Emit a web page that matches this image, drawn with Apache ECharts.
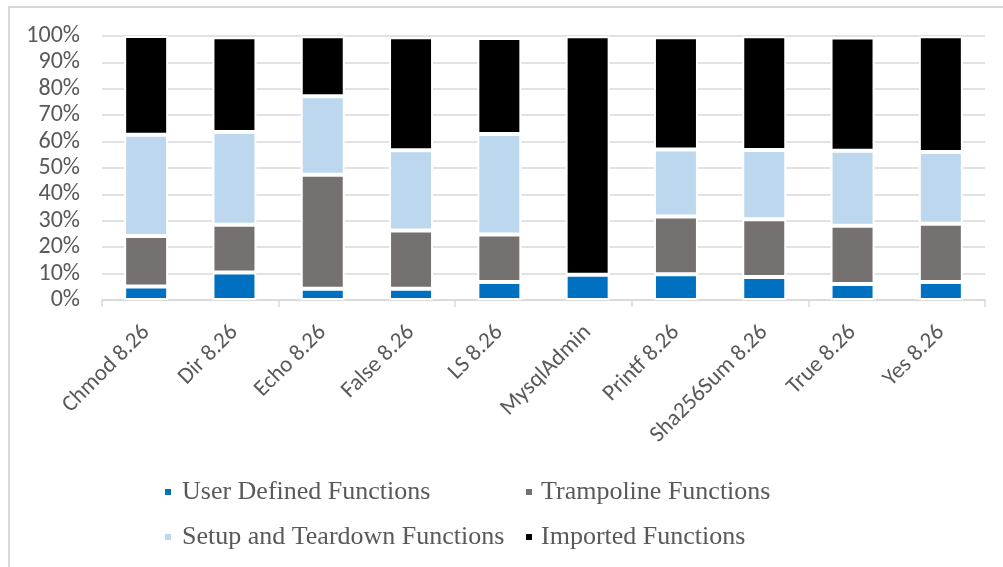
<!DOCTYPE html>
<html>
<head>
<meta charset="utf-8">
<script src="https://cdn.jsdelivr.net/npm/echarts@6/dist/echarts.min.js"></script>
<style>
  html, body { margin: 0; padding: 0; background: #fff; }
  #chart { width: 1003px; height: 567px; }
</style>
</head>
<body>
<div id="chart"></div>
<script>
// Programs and their share of each function kind (percent)
const categories = ['Chmod 8.26', 'Dir 8.26', 'Echo 8.26', 'False 8.26', 'LS 8.26',
  'MysqlAdmin', 'Printf 8.26', 'Sha256Sum 8.26', 'True 8.26', 'Yes 8.26'];
const userDefined = [5.1, 10.4, 4.3, 4.3, 6.8, 9.6, 9.8, 8.7, 6.1, 6.8];
const trampoline  = [19.1, 18.1, 43.1, 22.0, 18.0, 0, 21.8, 21.9, 22.0, 22.1];
const setupTeardown = [38.4, 35.1, 29.8, 30.4, 38.1, 0, 25.4, 26.2, 28.4, 27.2];
const imported    = [37.4, 35.9, 22.7, 42.8, 36.3, 90.3, 42.5, 43.1, 42.9, 43.8];
const yTicks = [0, 10, 20, 30, 40, 50, 60, 70, 80, 90, 100];

const seriesDefs = [
  { name: 'User Defined Functions', data: userDefined, color: '#0070C0' },
  { name: 'Trampoline Functions', data: trampoline, color: '#767171' },
  { name: 'Setup and Teardown Functions', data: setupTeardown, color: '#BDD7EE' },
  { name: 'Imported Functions', data: imported, color: '#000000' }
];

const labelFont = 'Carlito, Lato, "Liberation Sans", sans-serif';
const legendFont = '"Liberation Serif", "Times New Roman", serif';

// two-column legend grid
const legendPos = [
  { left: 163, top: 479, gap: 5 },
  { left: 524, top: 479, gap: 3 },
  { left: 163, top: 524, gap: 5 },
  { left: 524, top: 524, gap: 3 }
];

const axisGray = '#D9D9D9';

const chart = echarts.init(document.getElementById('chart'), null, { renderer: 'canvas' });
chart.setOption({
  backgroundColor: '#ffffff',
  animation: false,
  graphic: [{
    type: 'polyline',
    shape: { points: [[9, 600], [9, 7], [1010, 7]] },
    style: { stroke: axisGray, lineWidth: 2, fill: null },
    silent: true
  }],
  legend: seriesDefs.map((s, i) => ({
    data: [s.name],
    left: legendPos[i].left,
    top: legendPos[i].top,
    padding: 0,
    orient: 'horizontal',
    icon: 'rect',
    itemWidth: 8,
    itemHeight: 8,
    textStyle: {
      fontFamily: legendFont, fontSize: 26, color: '#595959',
      padding: [0, 0, 0, legendPos[i].gap]
    }
  })),
  grid: { left: 102, right: 18, top: 36, bottom: 267, containLabel: false },
  xAxis: [
    {
      // category labels
      type: 'category',
      data: categories,
      axisLine: { lineStyle: { color: axisGray, width: 1.5 } },
      axisTick: { show: false },
      axisLabel: {
        rotate: 45,
        interval: 0,
        margin: 29,
        fontFamily: labelFont,
        fontSize: 23,
        color: '#595959'
      },
      splitLine: { show: false }
    },
    {
      // short boundary ticks under the axis line
      type: 'category',
      data: categories,
      position: 'bottom',
      axisLine: { show: false },
      axisTick: { show: true, length: 7, lineStyle: { color: axisGray, width: 1.5 } },
      axisLabel: { show: false },
      splitLine: { show: false }
    }
  ],
  yAxis: {
    type: 'value',
    min: 0,
    max: 100,
    interval: 10,
    axisLine: { show: false },
    axisTick: { show: false },
    axisLabel: {
      formatter: v => yTicks.indexOf(v) >= 0 ? v + '%' : '',
      margin: 22,
      fontFamily: labelFont,
      fontSize: 24,
      color: '#595959'
    },
    splitLine: { lineStyle: { color: axisGray, width: 1.5 } }
  },
  series: seriesDefs.map(s => ({
    name: s.name,
    type: 'bar',
    stack: 'total',
    xAxisIndex: 0,
    barWidth: 44,
    data: s.data,
    itemStyle: { color: s.color, borderColor: '#ffffff', borderWidth: 2 },
    emphasis: { disabled: true }
  }))
});
</script>
</body>
</html>
